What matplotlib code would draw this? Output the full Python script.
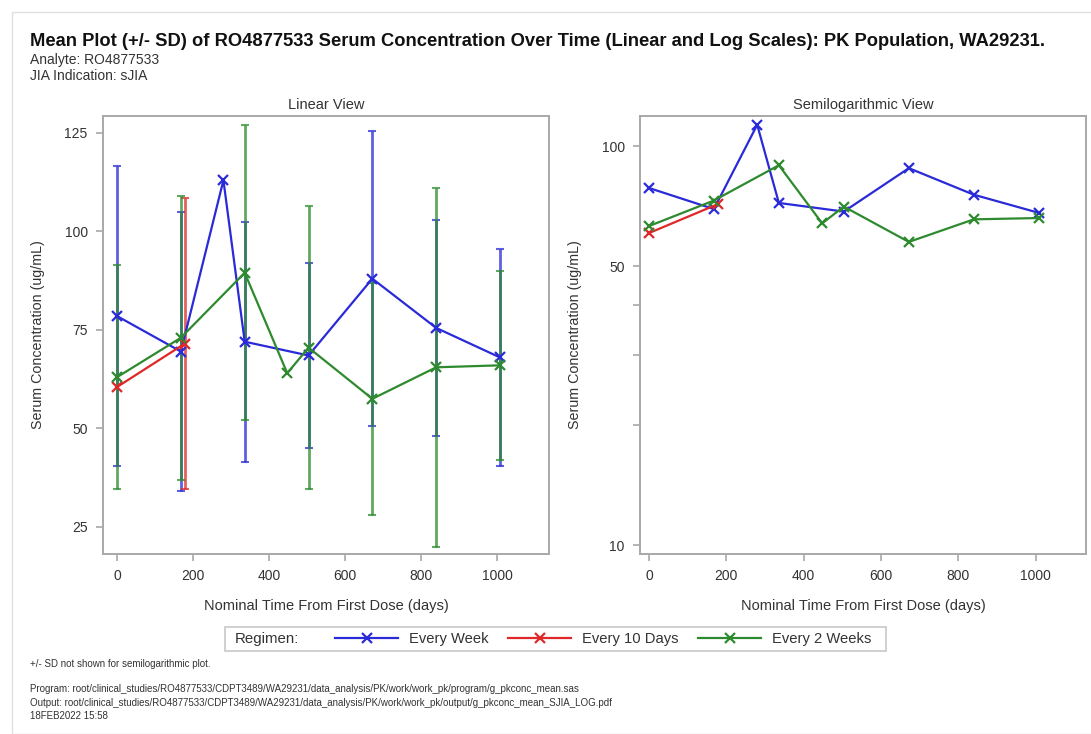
import numpy as np
import matplotlib
matplotlib.use("Agg")
import matplotlib.pyplot as plt
from matplotlib.lines import Line2D
from matplotlib.patches import Rectangle

plt.rcParams['font.family'] = ['Liberation Sans', 'DejaVu Sans']

# mean and SD by regimen (ug/mL) at nominal days
time_week = [0, 168, 280, 336, 504, 672, 840, 1008]
mean_week = [78.5, 69.5, 113.0, 72.0, 68.5, 88.0, 75.5, 68.0]
sd_week = [38.0, 35.5, np.nan, 30.5, 23.5, 37.5, 27.5, 27.5]

time_10d = [0, 178]
mean_10d = [60.5, 71.5]
sd_10d = [np.nan, 37.0]

time_2w = [0, 168, 336, 448, 504, 672, 840, 1008]
mean_2w = [63.0, 73.0, 89.5, 64.0, 70.5, 57.5, 65.5, 66.0]
sd_2w = [28.5, 36.0, 37.5, np.nan, 36.0, 29.5, 45.5, 24.0]

regimens = ["Every Week", "Every 10 Days", "Every 2 Weeks"]
colors = ["#2a2ad8", "#e02828", "#2e8a2e"]
series = [(time_week, mean_week, sd_week),
          (time_10d, mean_10d, sd_10d),
          (time_2w, mean_2w, sd_2w)]

lin_ticks = [25, 50, 75, 100, 125]
log_ticks = [10, 50, 100]
log_minor = [20, 30, 40]
x_ticks = [0, 200, 400, 600, 800, 1000]

fig = plt.figure(figsize=(10.91, 7.34), dpi=100)
W, H = 1091.0, 734.0

def box(x0, x1, y0, y1):
    return [x0 / W, 1 - y1 / H, (x1 - x0) / W, (y1 - y0) / H]

ax1 = fig.add_axes(box(103, 549, 116, 554))
ax2 = fig.add_axes(box(640, 1086, 116, 554))

spine_col = "#a8a8a8"
txt_col = "#333333"

def style(ax):
    for s in ax.spines.values():
        s.set_color(spine_col)
        s.set_linewidth(1.4)
    ax.tick_params(axis="both", which="both", color=spine_col, width=1.2,
                   length=5, labelsize=10, labelcolor=txt_col, pad=6)
    ax.set_xticks(x_ticks)
    ax.set_xlabel("Nominal Time From First Dose (days)", fontsize=10.5,
                  color=txt_col, labelpad=11)
    ax.set_ylabel("Serum Concentration (ug/mL)", fontsize=10.3, color=txt_col,
                  labelpad=14)

# linear view with +/- SD bars
for (t, m, sd), c in zip(series, colors):
    t = np.array(t, float)
    m = np.array(m, float)
    sd = np.array(sd, float)
    ok = np.isfinite(sd)
    ax1.errorbar(t[ok], m[ok], yerr=sd[ok], fmt="none", ecolor=c,
                 elinewidth=2.0, capsize=3, capthick=1.5, alpha=0.75, zorder=2)
for (t, m, sd), c in zip(series, colors):
    ax1.plot(t, m, color=c, lw=1.6, marker="x", ms=6.5, mew=1.6, zorder=3)

ax1.set_xlim(-37, 1137)
ax1.set_ylim(18.1, 129.3)
ax1.set_yticks(lin_ticks)
style(ax1)
ax1.set_title("Linear View", fontsize=10.5, color=txt_col, pad=5)

# semilog view, means only
for (t, m, sd), c in zip(series, colors):
    ax2.plot(t, m, color=c, lw=1.6, marker="x", ms=6.5, mew=1.6, zorder=3)
ax2.set_yscale("log")
ax2.set_xlim(-23, 1130)
ax2.set_ylim(9.5, 118.9)
ax2.set_yticks(log_ticks)
ax2.set_yticklabels([str(v) for v in log_ticks])
ax2.set_yticks(log_minor, minor=True)
ax2.set_yticklabels([], minor=True)
style(ax2)
ax2.set_title("Semilogarithmic View", fontsize=10.5, color=txt_col, pad=5)

# headings
fig.text(30 / W, 1 - 42 / H, "Mean Plot (+/- SD) of RO4877533 Serum Concentration Over Time "
         "(Linear and Log Scales): PK Population, WA29231.",
         fontsize=13.2, fontweight="bold", color="#111111", va="center")
fig.text(30 / W, 1 - 60 / H, "Analyte: RO4877533", fontsize=10, color=txt_col, va="center")
fig.text(30 / W, 1 - 76 / H, "JIA Indication: sJIA", fontsize=10, color=txt_col, va="center")

# legend strip
fig.patches.append(Rectangle((225 / W, 1 - 651 / H), (886 - 225) / W, 24 / H,
                             transform=fig.transFigure, fill=False,
                             edgecolor="#c8c8c8", lw=1.2))
fig.text(235 / W, 1 - 639 / H, "Regimen:", fontsize=10.8, color=txt_col, va="center")
handles = [Line2D([], [], color=c, lw=1.6, marker="x", ms=6.5, mew=1.6) for c in colors]
fig.legend(handles, regimens, loc="center left", bbox_to_anchor=(335 / W, 1 - 639 / H),
           ncol=3, frameon=False, fontsize=10.6, handlelength=4.3, handletextpad=0.75,
           columnspacing=1.3, labelcolor=txt_col, borderpad=0, borderaxespad=0)

# footnotes
fig.text(30 / W, 1 - 664 / H, "+/- SD not shown for semilogarithmic plot.",
         fontsize=7, color=txt_col, va="center")
fig.text(30 / W, 1 - 689 / H,
         "Program: root/clinical_studies/RO4877533/CDPT3489/WA29231/data_analysis/PK/work/"
         "work_pk/program/g_pkconc_mean.sas", fontsize=7, color=txt_col, va="center")
fig.text(30 / W, 1 - 703 / H,
         "Output: root/clinical_studies/RO4877533/CDPT3489/WA29231/data_analysis/PK/work/"
         "work_pk/output/g_pkconc_mean_SJIA_LOG.pdf", fontsize=7, color=txt_col, va="center")
fig.text(30 / W, 1 - 716 / H, "18FEB2022 15:58", fontsize=7, color=txt_col, va="center")

# page frame
fig.patches.append(Rectangle((12 / W, 0), 1.1, 1 - 12 / H, transform=fig.transFigure,
                             fill=False, edgecolor="#e0e0e0", lw=1.0))

fig.savefig("out.png", dpi=100)
